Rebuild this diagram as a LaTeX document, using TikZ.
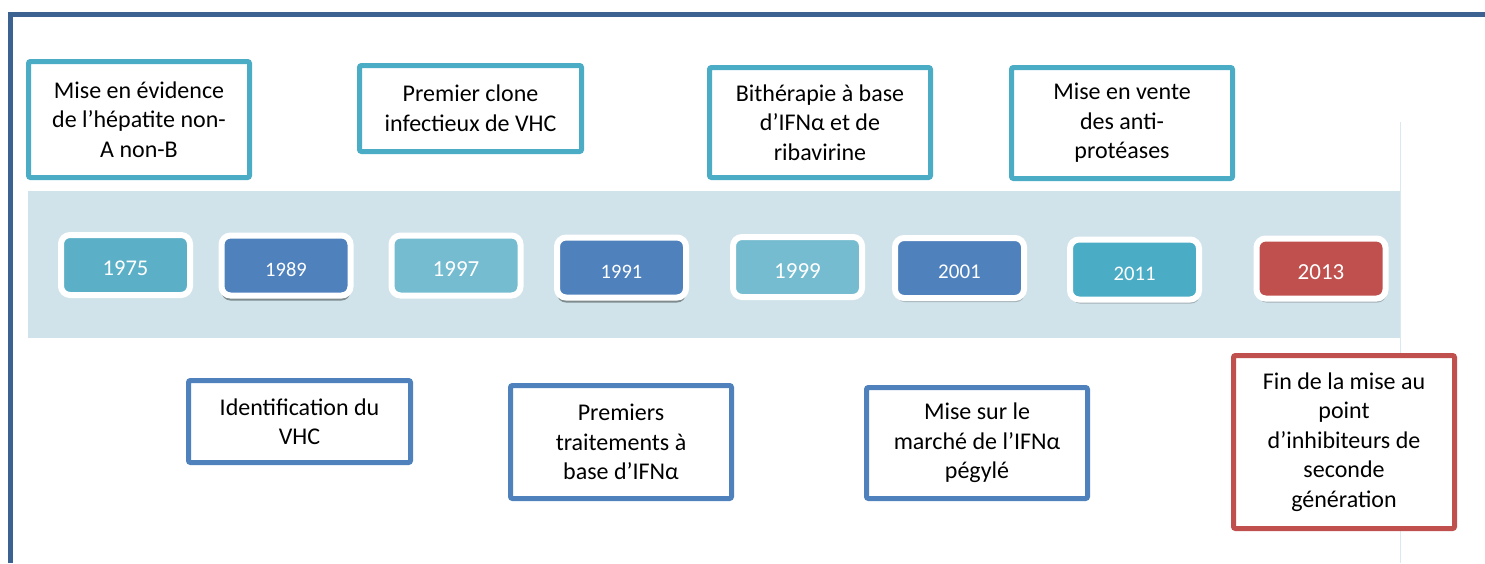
\documentclass[tikz,border=0pt]{standalone}
\usepackage{fontspec}
\setmainfont{Carlito}
\usetikzlibrary{shadows}

\definecolor{frameblue}{RGB}{60,98,145}
\definecolor{bandblue}{RGB}{208,227,234}
\definecolor{edgeblue}{RGB}{218,232,240}
\definecolor{evcyan}{RGB}{75,172,198}
\definecolor{evblue}{RGB}{79,129,189}
\definecolor{evred}{RGB}{192,80,77}
\definecolor{yrteal}{RGB}{91,176,200}
\definecolor{yrpale}{RGB}{117,188,208}
\definecolor{shadowgrey}{RGB}{127,140,143}

\tikzset{
  event/.style={draw, rectangle, rounded corners=2pt, line width=5pt, fill=white,
    align=center, text=black, inner sep=0pt, font=\fontsize{24}{29.5}\selectfont},
  year/.style={draw=white, rectangle, rounded corners=9pt, line width=6pt, text=white,
    minimum width=129pt, minimum height=60pt, text height=22pt, inner sep=0pt},
  hardshadow/.style={drop shadow={shadow xshift=0pt, shadow yshift=-5pt,
    fill=shadowgrey, opacity=1}},
  softshadow/.style={drop shadow={shadow xshift=1pt, shadow yshift=-4pt,
    fill=black, opacity=.22}},
}

\begin{document}
\begin{tikzpicture}[x=1pt,y=-1pt]
  \useasboundingbox (0,0) rectangle (1485,563);

  % band and frame
  \fill[bandblue] (28,191) rectangle (1400,338);
  \draw[edgeblue, line width=1pt] (1400,122) -- (1400,563);
  \draw[frameblue, line width=5pt] (10,563) -- (10,14.5) -- (1485,14.5);

  % years
  \node[year, fill=yrteal, font=\fontsize{22.5}{27}\selectfont] (y1975) at (125.5,265) {1975};
  \node[year, fill=evblue, hardshadow, font=\fontsize{20.5}{25}\selectfont] (y1989) at (286,265.5) {1989};
  \node[year, fill=yrpale, font=\fontsize{23}{27}\selectfont] (y1997) at (456,265.5) {1997};
  \node[year, fill=evblue, hardshadow, font=\fontsize{20.5}{25}\selectfont] (y1991) at (621.5,267.5) {1991};
  \node[year, fill=yrpale, font=\fontsize{23}{27}\selectfont] (y1999) at (797.5,267) {1999};
  \node[year, fill=evblue, softshadow, font=\fontsize{21}{25}\selectfont] (y2001) at (959.5,268) {2001};
  \node[year, fill=evcyan, softshadow, font=\fontsize{20.7}{25}\selectfont] (y2011) at (1134.5,269.5) {2011};
  \node[year, fill=evred, softshadow, font=\fontsize{23}{27}\selectfont] (y2013) at (1321,268.5) {2013};

  % events above the band
  \node[event, draw=evcyan, minimum width=221pt, minimum height=116pt] (nonanonb) at (139,119.5)
    {Mise en évidence\\de l’hépatite non-\\A non-B};
  \node[event, draw=evcyan, minimum width=222pt, minimum height=86pt] (clone) at (470.5,108.5)
    {Premier clone\\infectieux de VHC};
  \node[event, draw=evcyan, minimum width=221pt, minimum height=110pt] (bitherapie) at (820,122.5)
    {Bithérapie à base\\d’IFNα et de\\ribavirine};
  \node[event, draw=evcyan, minimum width=221pt, minimum height=111pt] (antiprot) at (1122,123)
    {Mise en vente\\des anti-\\protéases};

  % events below the band
  \node[event, draw=evblue, minimum width=222pt, minimum height=82pt] (identif) at (299.5,421.5)
    {Identification du\\VHC};
  \node[event, draw=evblue, minimum width=221pt, minimum height=113pt] (traitements) at (621,442)
    {Premiers\\traitements à\\base d’IFNα};
  \node[event, draw=evblue, minimum width=221pt, minimum height=111pt] (pegyle) at (977,443)
    {Mise sur le\\marché de l’IFNα\\pégylé};
  \node[event, draw=evred, minimum width=221pt, minimum height=173pt] (inhibiteurs) at (1344,442)
    {Fin de la mise au\\point\\d’inhibiteurs de\\seconde\\génération};
\end{tikzpicture}
\end{document}
